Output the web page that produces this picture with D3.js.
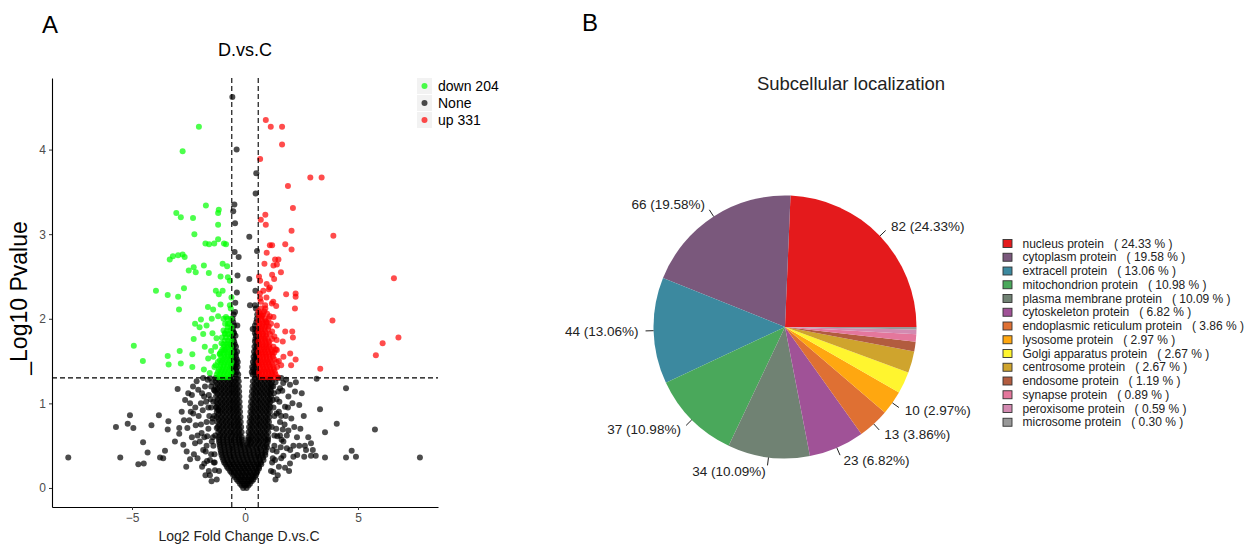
<!DOCTYPE html>
<html>
<head>
<meta charset="utf-8">
<script src="https://cdn.jsdelivr.net/npm/d3@7"></script>
<style>
body{margin:0;background:#fff}
svg text{font-family:"Liberation Sans",Arial,sans-serif}
</style>
</head>
<body>
<svg id="chart" width="1260" height="545"></svg>
<script>
// ---- volcano data (log2 fold change, -log10 p) ----
const downTotal = 204
const upTotal = 331
const fcCut = 0.585
const pCut = 1.301

const downPts = [
  [-2.04,4.27],[-2.76,3.98],[-1.73,3.34],[-1.16,3.29],[-1.19,3.25],[-3.04,3.25],[-2.84,3.20],[-2.30,3.19],
  [-1.19,3.11],[-2.24,3.00],[-1.75,2.89],[-1.59,2.88],[-1.36,2.89],[-1.19,2.94],[-0.93,2.89],[-0.84,2.88],
  [-3.33,2.70],[-3.19,2.74],[-2.96,2.75],[-2.76,2.76],[-2.67,2.73],[-0.99,2.65],[-0.79,2.62],[-2.49,2.57],
  [-2.27,2.61],[-2.18,2.55],[-1.82,2.63],[-1.60,2.54],[-1.08,2.50],[-0.76,2.49],[-0.67,2.45],[-3.94,2.33],
  [-2.70,2.36],[-3.42,2.28],[-2.96,2.26],[-1.29,2.33],[-1.16,2.29],[-0.99,2.33],[-2.92,2.11],[-1.64,2.14],
  [-1.41,2.11],[-1.08,2.17],[-0.67,2.16],[-2.21,1.94],[-1.95,1.99],[-2.01,1.90],[-1.70,1.92],[-1.47,2.00],
  [-1.19,2.03],[-0.84,2.02],[-0.76,1.94],[-4.92,1.68],[-4.52,1.50],[-3.42,1.56],[-3.38,1.46],[-2.89,1.62],
  [-2.84,1.47],[-2.33,1.58],[-2.33,1.43],[-2.27,1.76],[-1.85,1.82],[-1.78,1.67],[-1.44,1.83],[-1.32,1.67],
  [-1.82,1.40],[-1.56,1.36],[-1.63,1.53],[-1.11,1.51],[-1.26,1.77],[-1.04,1.71],[-0.89,1.83],[-1.11,1.59],
  [-0.93,1.63],[-0.73,1.71],[-1.30,1.45],[-1.40,1.55],[-1.50,1.62],[-0.60,2.25],[-0.63,2.12]
]
const downRows = [
  [1.31,[-0.72,-0.88,-1.03,-1.18]],
  [1.34,[-0.65,-0.8,-0.95,-1.1,-1.25]],
  [1.37,[-0.6,-0.75,-0.9,-1.05,-1.2]],
  [1.40,[-0.7,-0.85,-1.0,-1.15]],
  [1.43,[-0.65,-0.8,-0.95,-1.1,-1.35]],
  [1.46,[-0.63,-0.78,-0.93,-1.08]],
  [1.49,[-0.6,-0.74,-0.88,-1.03,-1.2]],
  [1.52,[-0.68,-0.83,-0.98]],
  [1.55,[-0.62,-0.76,-0.9,-1.05]],
  [1.58,[-0.64,-0.79,-0.94,-1.12]],
  [1.61,[-0.6,-0.74,-0.88,-1.06]],
  [1.64,[-0.7,-0.85,-1.0]],
  [1.67,[-0.62,-0.76,-0.92]],
  [1.70,[-0.66,-0.81,-0.96]],
  [1.74,[-0.6,-0.76,-0.9]],
  [1.78,[-0.68,-0.84,-1.02]],
  [1.82,[-0.62,-0.74,-0.88]],
  [1.86,[-0.65,-0.8,-0.95]],
  [1.90,[-0.6,-0.76]],
  [1.94,[-0.7,-0.88]],
  [2.00,[-0.62,-0.78,-0.95]]
]

const upPts = [
  [0.92,4.35],[1.14,4.27],[1.64,4.27],[1.64,4.06],[0.67,3.89],[2.89,3.67],[3.39,3.67],[1.90,3.57],
  [2.12,3.31],[0.90,3.23],[0.70,3.17],[0.92,3.11],[2.06,3.04],[3.91,2.98],[1.10,2.87],[1.20,2.87],
  [1.78,2.88],[2.06,2.82],[0.96,2.78],[1.33,2.70],[1.48,2.70],[0.86,2.65],[1.26,2.63],[1.41,2.64],
  [1.59,2.55],[1.20,2.52],[6.59,2.48],[0.67,2.45],[0.96,2.41],[1.29,2.47],[0.81,2.33],[1.10,2.37],
  [1.82,2.29],[2.24,2.30],[2.24,2.26],[0.67,2.24],[0.89,2.16],[1.19,2.18],[1.38,2.15],[2.21,2.12],
  [3.87,1.98],[0.74,2.04],[0.96,1.96],[1.26,2.02],[1.41,1.92],[1.78,1.85],[2.09,1.85],[2.12,1.78],
  [1.67,1.73],[6.79,1.78],[6.09,1.71],[5.79,1.57],[3.33,1.41],[2.24,1.52],[2.00,1.59],[2.04,1.45],
  [1.70,1.55],[1.41,1.63],[0.66,2.30],[0.70,2.20],[0.95,2.25],[1.05,2.35],[0.62,2.50],[1.25,2.20],
  [1.50,1.50],[1.60,1.45],[1.40,1.75],[1.30,1.60]
]
const upRows = [
  [1.31,[0.7,0.85,1.0,1.15,1.3,1.45]],
  [1.34,[0.64,0.78,0.92,1.06,1.2,1.35]],
  [1.37,[0.62,0.76,0.9,1.04,1.18,1.32]],
  [1.40,[0.7,0.84,0.98,1.12,1.28]],
  [1.43,[0.66,0.8,0.95,1.1,1.26,1.42]],
  [1.46,[0.63,0.77,0.91,1.05,1.2]],
  [1.49,[0.6,0.74,0.88,1.02,1.16,1.4]],
  [1.52,[0.68,0.82,0.96,1.1,1.3]],
  [1.55,[0.66,0.8,0.94,1.08,1.24]],
  [1.58,[0.64,0.78,0.92,1.06,1.22]],
  [1.61,[0.6,0.74,0.88,1.02,1.18]],
  [1.64,[0.7,0.84,0.98,1.14,1.36]],
  [1.67,[0.64,0.78,0.92,1.06,1.26]],
  [1.70,[0.66,0.8,0.94,1.08]],
  [1.73,[0.6,0.76,0.9,1.05]],
  [1.76,[0.72,0.86,1.0,1.2]],
  [1.79,[0.64,0.78,0.92,1.3]],
  [1.82,[0.65,0.8,0.95,1.1]],
  [1.85,[0.6,0.74,0.9,1.2]],
  [1.88,[0.7,0.85,1.02]],
  [1.91,[0.62,0.76,0.9,1.05]],
  [1.94,[0.66,0.8,0.95,1.15]],
  [1.97,[0.6,0.76,0.92]],
  [2.00,[0.72,0.88,1.05]],
  [2.03,[0.62,0.75,1.1]],
  [2.06,[0.65,0.8,0.98]],
  [2.09,[0.6,0.85]],
  [2.12,[0.7,0.9]]
]

const nonePts = [
  // between the fold-change cut lines, above the p cut
  [-0.56,4.62],[-0.37,4.00],[0.50,3.72],[0.47,3.48],[-0.47,3.35],[-0.52,3.27],[-0.44,3.13],[0.19,2.97],
  [-0.46,2.79],[-0.28,2.73],[0.53,2.80],[-0.33,2.51],[0.19,2.47],[-0.36,2.31],[0.46,2.33],[-0.43,2.19],
  [0.22,2.16],[0.44,2.16],[-0.44,2.08],[0.52,2.00],[-0.34,1.92],[0.34,1.88],[-0.49,1.83],[0.44,1.83],
  // scattered, below the p cut
  [-7.82,0.36],[-5.71,0.72],[-5.19,0.76],[-5.09,0.86],[-4.94,0.71],[-5.52,0.36],[-4.51,0.54],[-4.31,0.42],
  [-4.72,0.28],[-4.48,0.29],[-4.14,0.74],[-3.81,0.86],[-3.54,0.44],[-3.76,0.36],[-3.62,0.35],[-3.39,0.79],
  [-3.42,0.69],[-2.91,0.71],[-2.91,0.64],[-2.98,1.17],[-2.80,0.90],[-2.73,0.51],[-2.58,0.43],[-2.43,0.34],
  [-2.55,0.71],[-2.46,0.80],[-2.43,1.00],[-2.65,1.04],[-2.51,1.12],[-2.29,0.88],[-2.14,1.26],[-2.07,1.16],
  [-2.18,0.74],[-2.21,0.53],[-2.26,0.40],[-1.92,0.65],[-1.87,0.92],[-1.81,1.08],[-1.77,1.20],[-1.70,0.78],
  [-1.67,0.61],[-1.74,0.43],[-1.80,0.29],[-1.47,0.55],[-1.43,0.82],[-1.40,1.02],[-1.37,1.16],[-1.55,0.33],
  [-1.33,0.21],[-1.25,0.71],[-1.18,0.92],[-1.45,1.25],[-1.60,1.10],[-1.50,0.95],[-1.62,0.70],[-1.50,0.40],
  [-1.38,0.30],[-1.55,0.15],[-1.90,0.25],[-2.00,0.55],[-2.05,0.85],[-1.95,1.00],[-2.30,1.20],[-1.70,0.50],
  [-1.42,0.60],[-1.45,0.78],[-1.58,0.85],[-1.35,1.15],[-1.65,1.28],[-1.85,0.45],[-2.35,0.60],[-2.60,0.25],
  [-1.75,0.15],[-1.35,0.40],[-1.40,0.50],[-1.36,0.85],[-1.50,1.20],[-1.62,0.95],[-1.68,0.32],[-1.80,0.60],
  [-1.95,0.75],[-2.10,0.35],[-2.20,0.95],[-1.90,1.12],[-1.60,0.20],[-1.48,0.08],[-1.25,0.10],[-1.15,0.20],
  [-2.40,0.90],[-2.70,0.80],[-3.10,0.55],[-1.52,1.05],[-1.72,1.02],[-2.10,0.62],[-1.30,1.30],[-1.55,1.30],
  [-1.85,1.30],[-2.35,1.10],[-1.28,0.95],[-1.32,0.62],[-1.34,0.30],
  [3.17,1.29],[4.47,1.18],[3.32,0.93],[4.06,0.76],[5.75,0.69],[3.54,0.66],[4.72,0.44],[4.91,0.37],
  [4.47,0.36],[3.54,0.36],[7.74,0.36],[3.13,0.38],[2.92,0.38],[2.62,0.37],[2.92,0.53],[2.65,0.50],
  [2.40,0.98],[2.51,1.12],[2.21,1.14],[1.99,1.22],[2.18,0.72],[1.92,0.68],[2.40,0.50],[2.14,0.50],
  [2.31,0.39],[2.14,0.37],[1.99,0.29],[1.77,0.24],[1.25,0.19],[1.55,0.78],[1.67,0.69],[1.62,0.57],
  [1.85,0.47],[1.77,0.96],[1.92,1.08],[1.69,1.24],[1.47,1.14],[1.52,1.02],[1.40,0.88],[1.43,0.61],
  [1.40,0.43],[1.33,0.33],[1.18,0.72],[1.23,1.04],[1.25,1.20],[1.23,0.35],[1.35,1.25],[1.50,0.90],
  [1.38,0.70],[1.60,0.35],[1.45,0.15],[1.30,0.50],[1.65,1.15],[1.70,0.55],[1.80,0.85],[2.00,0.45],
  [1.55,0.62],[1.30,0.85],[1.95,0.20],[2.60,0.85],[2.10,1.00],[1.40,1.05],[1.22,0.45],[1.30,0.62],
  [1.26,0.95],[1.28,1.12],[1.45,1.30],[1.60,1.30],[1.82,1.28],[1.55,1.18],[1.58,0.48],[1.70,0.38],
  [1.85,0.62],[1.60,0.85],[1.75,0.75],[2.30,0.60],[2.05,0.82],[2.25,1.25],[1.20,0.30],[1.15,0.20],
  [1.35,0.10],[1.50,0.25],[1.90,0.95],[2.45,0.70],[2.70,0.45],[2.80,0.60],[3.00,0.45]
]
const noneRows = [
  [0.00,[-0.08,0.07]],
  [0.03,[-0.15,0.0,0.15]],
  [0.05,[-0.22,-0.06,0.09,0.22]],
  [0.08,[-0.3,-0.14,0.02,0.17,0.3]],
  [0.10,[-0.37,-0.21,-0.05,0.11,0.27,0.37]],
  [0.13,[-0.45,-0.29,-0.13,0.03,0.19,0.35,0.44]],
  [0.15,[-0.52,-0.35,-0.18,-0.01,0.16,0.32,0.48]],
  [0.18,[-0.6,-0.43,-0.26,-0.09,0.08,0.25,0.42,0.52]],
  [0.20,[-0.66,-0.49,-0.32,-0.15,0.03,0.2,0.37,0.55]],
  [0.23,[-0.74,-0.56,-0.38,-0.2,-0.03,0.14,0.32,0.5,0.62]],
  [0.25,[-0.8,-0.62,-0.44,-0.27,-0.09,0.08,0.26,0.44,0.62]],
  [0.28,[-0.86,-0.68,-0.5,-0.32,-0.14,0.04,0.22,0.4,0.58,0.72]],
  [0.30,[-0.92,-0.74,-0.56,-0.38,-0.2,-0.02,0.16,0.34,0.52,0.7]],
  [0.33,[-0.96,-0.78,-0.6,-0.42,-0.24,-0.06,0.12,0.3,0.48,0.66,0.82]],
  [0.36,[-1.0,-0.82,-0.64,-0.46,-0.28,-0.1,0.08,0.26,0.44,0.62,0.8]],
  [0.39,[-1.04,-0.86,-0.68,-0.5,-0.32,-0.14,0.04,0.22,0.4,0.58,0.76,0.9]],
  [0.42,[-1.06,-0.88,-0.7,-0.52,-0.34,-0.16,0.02,0.2,0.38,0.56,0.74,0.9]],
  [0.45,[-1.08,-0.9,-0.72,-0.54,-0.36,-0.18,0.0,0.18,0.36,0.54,0.72,0.92]],
  [0.48,[-1.1,-0.92,-0.74,-0.56,-0.38,-0.2,-0.03,0.14,0.32,0.5,0.68,0.86,0.98]],
  [0.51,[-1.12,-0.94,-0.76,-0.58,-0.4,-0.22,-0.1,0.1,0.22,0.4,0.58,0.76,0.94]],
  [0.54,[-1.14,-0.96,-0.78,-0.6,-0.42,-0.25,-0.12,0.13,0.28,0.46,0.64,0.82,1.0]],
  [0.57,[-1.15,-0.97,-0.79,-0.61,-0.43,-0.27,-0.13,0.13,0.22,0.38,0.56,0.74,0.92,1.02]],
  [0.60,[-1.16,-0.98,-0.8,-0.62,-0.44,-0.28,-0.14,0.15,0.3,0.48,0.66,0.84,1.02]],
  [0.63,[-1.1,-0.92,-0.74,-0.56,-0.4,-0.23,0.22,0.4,0.58,0.76,0.94]],
  [0.66,[-1.18,-1.0,-0.82,-0.64,-0.46,-0.3,-0.15,0.16,0.32,0.5,0.68,0.86,1.03]],
  [0.69,[-1.12,-0.94,-0.76,-0.58,-0.41,-0.24,0.24,0.42,0.6,0.78,0.96]],
  [0.72,[-1.2,-1.02,-0.84,-0.66,-0.48,-0.32,-0.17,0.18,0.34,0.52,0.7,0.88,1.05]],
  [0.75,[-1.14,-0.96,-0.78,-0.6,-0.42,-0.26,0.26,0.44,0.62,0.8,0.98]],
  [0.78,[-1.22,-1.04,-0.86,-0.68,-0.5,-0.34,-0.19,0.2,0.36,0.54,0.72,0.9,1.06]],
  [0.81,[-1.16,-0.98,-0.8,-0.62,-0.44,-0.28,0.28,0.46,0.64,0.82,1.0]],
  [0.84,[-1.24,-1.06,-0.88,-0.7,-0.52,-0.36,-0.2,0.22,0.38,0.56,0.74,0.92,1.08]],
  [0.87,[-1.17,-0.99,-0.81,-0.63,-0.46,-0.3,0.3,0.48,0.66,0.84,1.02]],
  [0.90,[-1.25,-1.07,-0.89,-0.71,-0.54,-0.38,-0.22,0.24,0.4,0.58,0.76,0.94,1.1]],
  [0.93,[-1.18,-1.0,-0.82,-0.64,-0.47,-0.31,0.32,0.5,0.68,0.86,1.04]],
  [0.96,[-1.26,-1.08,-0.9,-0.72,-0.55,-0.39,-0.23,0.25,0.42,0.6,0.78,0.96,1.12]],
  [0.99,[-1.19,-1.01,-0.83,-0.65,-0.48,-0.32,0.34,0.52,0.7,0.88,1.06]],
  [1.02,[-1.27,-1.09,-0.91,-0.73,-0.56,-0.4,-0.24,0.27,0.44,0.62,0.8,0.98,1.13]],
  [1.05,[-1.2,-1.02,-0.84,-0.66,-0.49,-0.33,0.36,0.54,0.72,0.9,1.08]],
  [1.08,[-1.28,-1.1,-0.92,-0.74,-0.57,-0.41,-0.25,0.29,0.46,0.64,0.82,1.0,1.15]],
  [1.11,[-1.21,-1.03,-0.85,-0.67,-0.5,-0.34,0.38,0.56,0.74,0.92,1.1]],
  [1.14,[-1.29,-1.11,-0.93,-0.75,-0.58,-0.42,-0.26,0.31,0.48,0.66,0.84,1.02,1.16]],
  [1.17,[-1.22,-1.04,-0.86,-0.68,-0.51,-0.35,0.4,0.58,0.76,0.94,1.12]],
  [1.20,[-1.3,-1.12,-0.94,-0.76,-0.59,-0.43,-0.27,0.33,0.5,0.68,0.86,1.04,1.18]],
  [1.23,[-1.22,-1.04,-0.86,-0.68,-0.52,-0.36,0.42,0.6,0.78,0.96,1.14]],
  [1.26,[-1.3,-1.12,-0.94,-0.76,-0.6,-0.44,-0.28,0.35,0.52,0.7,0.88,1.06,1.2]],
  [1.29,[-1.2,-1.02,-0.84,-0.66,-0.5,-0.36,0.44,0.62,0.8,0.98,1.12]],
  [1.34,[-0.55,-0.42,-0.3,0.34,0.45,0.55]],
  [1.37,[-0.5,-0.36,0.3,0.42,0.56]],
  [1.40,[-0.54,-0.4,0.36,0.5]],
  [1.43,[-0.58,-0.45,-0.33,0.32,0.46]],
  [1.46,[-0.52,-0.38,0.4,0.53]],
  [1.49,[-0.46,-0.32,0.35,0.48]],
  [1.52,[-0.5,-0.36,0.42,0.55]],
  [1.55,[-0.58,-0.4,0.38,0.5]],
  [1.58,[-0.54,-0.42,0.45,0.52]],
  [1.61,[-0.47,-0.35,0.4,0.56]],
  [1.64,[-0.5,0.48]],
  [1.67,[-0.56,-0.4,0.42,0.54]],
  [1.70,[-0.55,-0.45,0.5]],
  [1.73,[-0.48,0.44,0.57]],
  [1.76,[-0.52,0.46,0.55]],
  [1.80,[-0.56,-0.42,0.48]],
  [1.84,[-0.5,0.52]],
  [1.88,[-0.54,0.45,0.56]],
  [1.92,[-0.48,0.44]],
  [1.96,[-0.52,0.5]],
  [2.00,[-0.55]],
  [2.05,[-0.5,0.54]],
  [2.12,[0.48]]
]

// ---- subcellular localization data ----
const locNames = ["nucleus protein","cytoplasm protein","extracell protein","mitochondrion protein",
  "plasma membrane protein","cytoskeleton protein","endoplasmic reticulum protein","lysosome protein",
  "Golgi apparatus protein","centrosome protein","endosome protein","synapse protein",
  "peroxisome protein","microsome protein"]
const locCounts = [82,66,44,37,34,23,13,10,9,9,4,3,2,1]
const locColors = ["#E41A1C","#7A587C","#3C899F","#4AA85B","#708273","#A05297","#DF7033",
  "#FFA710","#FFF52F","#CFA42D","#B25C3F","#E4779C","#D38AB1","#999999"]

const svg = d3.select("#chart")
const flat = rows => rows.flatMap(r => r[1].map(v => [v, r[0]]))

// ================= panel A: volcano =================
const x = d3.scaleLinear().domain([-8.54, 8.54]).range([52, 438])
const y = d3.scaleLinear().domain([-0.225, 4.846]).range([507, 78])

const groups = [
  {key:"None", pts: nonePts.concat(flat(noneRows)), color:"#000000"},
  {key:"down", pts: downPts.concat(flat(downRows)), color:"#00FF00"},
  {key:"up", pts: upPts.concat(flat(upRows)), color:"#FF0000"}
]
const pg = svg.append("g")
groups.forEach(g => {
  pg.append("g").selectAll("circle").data(g.pts).join("circle")
    .attr("cx", d => x(d[0])).attr("cy", d => y(d[1])).attr("r", 3)
    .attr("fill", g.color).attr("fill-opacity", 0.7)
})

// cut lines
const cuts = svg.append("g").attr("stroke", "#000").attr("stroke-width", 1.1).attr("stroke-dasharray", "5,3")
cuts.append("line").attr("x1", x.range()[0]).attr("x2", x.range()[1]).attr("y1", y(pCut)).attr("y2", y(pCut))
;[-fcCut, fcCut].forEach(v => {
  cuts.append("line").attr("x1", x(v)).attr("x2", x(v)).attr("y1", y.range()[1]).attr("y2", y.range()[0])
})

// axes
const ax = svg.append("g").attr("transform", "translate(0,507)")
  .call(d3.axisBottom(x).tickValues([-5, 0, 5]).tickSize(3).tickSizeOuter(0).tickPadding(3))
const ay = svg.append("g").attr("transform", "translate(52,0)")
  .call(d3.axisLeft(y).tickValues([0, 1, 2, 3, 4]).tickFormat(d3.format("d"))
    .tickSize(3).tickSizeOuter(0).tickPadding(3))
;[ax, ay].forEach(a => {
  a.select(".domain").attr("stroke", "#000").attr("stroke-width", 1.1)
  a.selectAll(".tick line").attr("stroke", "#333")
  a.selectAll(".tick text").attr("fill", "#4D4D4D").style("font-size", "12px")
})

svg.append("text").attr("x", 245).attr("y", 50).attr("text-anchor", "middle")
  .attr("dominant-baseline", "central").style("font-size", "18px").text("D.vs.C")
svg.append("text").attr("x", 239).attr("y", 536).attr("text-anchor", "middle")
  .attr("dominant-baseline", "central").style("font-size", "14px").attr("fill", "#222")
  .text("Log2 Fold Change D.vs.C")
svg.append("text").attr("transform", "translate(27,298) rotate(-90)").attr("text-anchor", "middle")
  .style("font-size", "23px").text("_Log10 Pvalue")
svg.append("text").attr("x", 50).attr("y", 24).attr("text-anchor", "middle")
  .attr("dominant-baseline", "central").style("font-size", "24px").text("A")

// legend
const legItems = [
  {label:"down " + downTotal, color:"#00FF00"},
  {label:"None", color:"#000000"},
  {label:"up " + upTotal, color:"#FF0000"}
]
const leg = svg.append("g").attr("transform", "translate(417,78)")
legItems.forEach((d, i) => {
  const row = leg.append("g").attr("transform", `translate(0,${i * 17})`)
  row.append("rect").attr("width", 15).attr("height", 16).attr("fill", "#F2F2F2")
  row.append("circle").attr("cx", 7.5).attr("cy", 8).attr("r", 3).attr("fill", d.color).attr("fill-opacity", 0.7)
  row.append("text").attr("x", 21).attr("y", 8).attr("dominant-baseline", "central")
    .style("font-size", "14px").text(d.label)
})

// ================= panel B: pie =================
const total = d3.sum(locCounts)
const pctFmt = d3.format(".2f")
const cx = 785, cy = 327, R = 131.5
const pie = d3.pie().sort(null).value(d => d)
  .startAngle(Math.PI / 2).endAngle(Math.PI / 2 - 2 * Math.PI)
const arcs = pie(locCounts)
const arc = d3.arc().innerRadius(0).outerRadius(R)
const pieG = svg.append("g").attr("transform", `translate(${cx},${cy})`)
pieG.selectAll("path").data(arcs).join("path").attr("d", arc).attr("fill", (d, i) => locColors[i])

const at = (a, r) => [r * Math.sin(a), -r * Math.cos(a)]
const labelled = arcs.filter(d => d.data >= 10)
labelled.forEach(d => {
  const mid = (d.startAngle + d.endAngle) / 2
  const p0 = at(mid, R), p1 = at(mid, R + 8), p2 = at(mid, R + 14)
  pieG.append("line").attr("x1", p0[0]).attr("y1", p0[1]).attr("x2", p1[0]).attr("y2", p1[1])
    .attr("stroke", "#222").attr("stroke-width", 1)
  const right = p2[0] >= 0
  pieG.append("text").attr("x", p2[0] + (right ? 1 : -1)).attr("y", p2[1])
    .attr("text-anchor", right ? "start" : "end").attr("dominant-baseline", "central")
    .style("font-size", "13.5px").attr("fill", "#222")
    .text(`${d.data} (${pctFmt(d.data / total * 100)}%)`)
})

svg.append("text").attr("x", 851).attr("y", 83).attr("text-anchor", "middle")
  .attr("dominant-baseline", "central").style("font-size", "18.5px").attr("fill", "#222")
  .text("Subcellular localization")
svg.append("text").attr("x", 590).attr("y", 22).attr("text-anchor", "middle")
  .attr("dominant-baseline", "central").style("font-size", "24px").text("B")

const lg = svg.append("g").attr("transform", "translate(1003,243.5)")
locNames.forEach((n, i) => {
  const row = lg.append("g").attr("transform", `translate(0,${i * 13.75})`)
  row.append("rect").attr("x", 0).attr("y", -4).attr("width", 9).attr("height", 8)
    .attr("fill", locColors[i]).attr("stroke", "#333").attr("stroke-width", 0.9)
  row.append("text").attr("x", 19.5).attr("y", 0).attr("dominant-baseline", "central")
    .style("font-size", "12px").attr("fill", "#222").style("white-space", "pre")
    .text(`${n}   ( ${pctFmt(locCounts[i] / total * 100)} % )`)
})
</script>
</body>
</html>
